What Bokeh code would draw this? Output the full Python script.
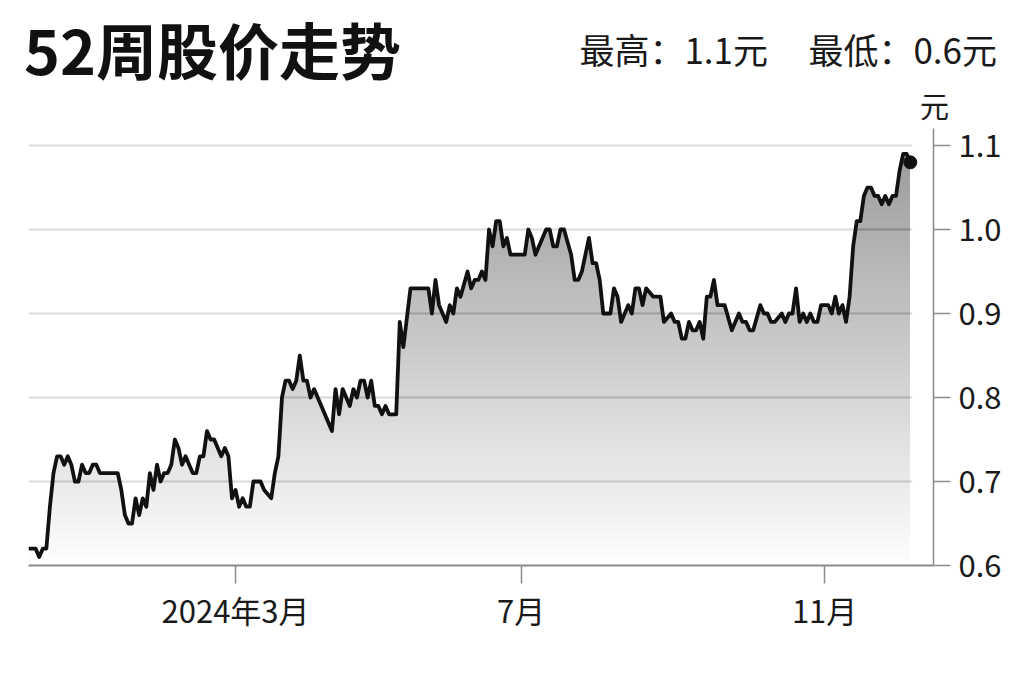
import numpy as np
from bokeh.plotting import figure
from bokeh.layouts import column
from bokeh.models import Range1d, FixedTicker, PrintfTickFormatter, Div
from bokeh.embed import file_html
from bokeh.resources import INLINE

# ---- data (trading-day index, closing price in 元) ----
day = [0, 2, 3, 4, 5, 6, 7, 8, 9, 10, 11, 12, 13, 14, 15, 16, 17, 18, 19, 20,
       25, 26, 27, 28, 29, 30, 31, 32, 33, 34, 35, 36, 37, 38, 39, 40, 41, 42, 43, 44,
       45, 46, 47, 48, 49, 50, 51, 52, 54, 55, 56, 57, 58, 59, 60, 61, 62, 63, 65, 66,
       68, 69, 70, 71, 72, 73, 74, 75, 76, 77, 78, 79, 80, 85, 86, 87, 88, 89, 90, 91,
       92, 93, 94, 95, 96, 97, 98, 99, 100, 101, 103, 104, 105, 107, 112, 113, 114, 115, 117, 118,
       119, 120, 121, 123, 124, 125, 126, 127, 128, 129, 130, 131, 132, 133, 134, 135, 139, 140, 141, 142,
       143, 145, 146, 147, 148, 149, 150, 152, 153, 154, 155, 157, 158, 159, 160, 161, 163, 164, 165, 166,
       168, 169, 170, 171, 172, 173, 175, 177, 178, 180, 181, 182, 183, 184, 185, 186, 187, 188, 189, 190,
       191, 192, 193, 195, 197, 199, 200, 201, 202, 203, 205, 206, 207, 208, 209, 211, 212, 213, 214, 215,
       216, 217, 218, 219, 220, 221, 222, 224, 225, 226, 227, 228, 229, 230, 231, 232, 233, 234, 235, 236,
       237, 238, 239, 240, 241, 242, 243, 244, 245, 246, 247]
price = [0.62, 0.62, 0.61, 0.62, 0.62, 0.67, 0.71, 0.73, 0.73, 0.72, 0.73, 0.72, 0.70, 0.70, 0.72, 0.71, 0.71, 0.72, 0.72, 0.71,
         0.71, 0.69, 0.66, 0.65, 0.65, 0.68, 0.66, 0.68, 0.67, 0.71, 0.69, 0.72, 0.70, 0.71, 0.71, 0.72, 0.75, 0.74, 0.72, 0.73,
         0.72, 0.71, 0.71, 0.73, 0.73, 0.76, 0.75, 0.75, 0.73, 0.74, 0.73, 0.68, 0.69, 0.67, 0.68, 0.67, 0.67, 0.70, 0.70, 0.69,
         0.68, 0.71, 0.73, 0.80, 0.82, 0.82, 0.81, 0.82, 0.85, 0.82, 0.82, 0.80, 0.81, 0.76, 0.81, 0.78, 0.81, 0.80, 0.79, 0.81,
         0.80, 0.82, 0.82, 0.80, 0.82, 0.79, 0.79, 0.78, 0.79, 0.78, 0.78, 0.89, 0.86, 0.93, 0.93, 0.90, 0.94, 0.91, 0.89, 0.91,
         0.90, 0.93, 0.92, 0.95, 0.93, 0.94, 0.94, 0.95, 0.94, 1.00, 0.98, 1.01, 1.01, 0.98, 0.99, 0.97, 0.97, 1.00, 0.99, 0.97,
         0.98, 1.00, 1.00, 0.98, 0.98, 1.00, 1.00, 0.97, 0.94, 0.94, 0.95, 0.99, 0.96, 0.96, 0.94, 0.90, 0.90, 0.93, 0.92, 0.89,
         0.91, 0.90, 0.93, 0.93, 0.91, 0.93, 0.92, 0.92, 0.89, 0.90, 0.89, 0.89, 0.87, 0.87, 0.89, 0.88, 0.88, 0.89, 0.87, 0.92,
         0.92, 0.94, 0.91, 0.91, 0.88, 0.90, 0.89, 0.89, 0.88, 0.88, 0.91, 0.90, 0.90, 0.89, 0.89, 0.90, 0.89, 0.90, 0.90, 0.93,
         0.89, 0.90, 0.89, 0.90, 0.89, 0.89, 0.91, 0.91, 0.90, 0.92, 0.90, 0.91, 0.89, 0.92, 0.98, 1.01, 1.01, 1.04, 1.05, 1.05,
         1.04, 1.04, 1.03, 1.04, 1.03, 1.04, 1.04, 1.07, 1.09, 1.09, 1.08]

x_tick_days = [58, 138, 223]
x_tick_labels = ["2024年3月", "7月", "11月"]
y_ticks = [0.6, 0.7, 0.8, 0.9, 1.0, 1.1]
y_axis_top = 1.12

title_text = "52周股价走势"
high_text = "最高：1.1元"
low_text = "最低：0.6元"
unit_text = "元"

FONT = "'Noto Sans CJK SC', 'Noto Sans', sans-serif"
TEXT = "#1a1a1a"
AXIS = "#8c8c8c"
W = 1024
HEAD_H = 120

# ---------------- header (title, high/low, unit) ----------------
span = ("position:absolute;white-space:nowrap;line-height:1;margin:0;padding:0;"
        "font-family:" + FONT + ";")
header_html = (
    '<div style="position:relative;width:%dpx;height:%dpx;margin:0;padding:0;">' % (W, HEAD_H)
    + '<span style="%sleft:24px;top:18px;font-size:61px;font-weight:bold;color:#111111;">%s</span>'
    % (span, title_text)
    + '<span style="%sright:%dpx;top:31px;font-size:35px;color:%s;">%s</span>'
    % (span, W - 768, TEXT, high_text)
    + '<span style="%sright:%dpx;top:31px;font-size:35px;color:%s;">%s</span>'
    % (span, W - 997, TEXT, low_text)
    + '<span style="%sleft:920px;top:91px;font-size:29px;color:%s;">%s</span>'
    % (span, TEXT, unit_text)
    + '</div>'
)
head = Div(text=header_html, width=W, height=HEAD_H, margin=0,
           styles={"overflow": "visible", "margin": "0", "padding": "0"})

# ---------------- main chart ----------------
# frame top sits 25px above the 1.1 level; the y axis line itself stops at 1.12
p = figure(width=W, height=680 - HEAD_H, output_backend="svg", toolbar_location=None,
           x_range=Range1d(0, 253.5), y_range=Range1d(0.6, 1.1298),
           y_axis_location="right", margin=0,
           min_border_left=28, min_border_right=91, min_border_top=0,
           min_border_bottom=115)
p.outline_line_color = None
p.xgrid.visible = False
p.ygrid.visible = False

# horizontal grid lines (only across the data span)
grid_levels = y_ticks[1:]
p.segment(x0=[day[0]] * len(grid_levels), y0=grid_levels,
          x1=[day[-1] + 0.5] * len(grid_levels), y1=grid_levels,
          line_color="#dadada", line_width=2)

# vertical gradient under the line: stacked translucent layers
pr = np.array(price, dtype=float)
levels = np.linspace(0.6, 1.1, 51)[:-1]
for L in levels:
    p.varea(x=day, y1=np.full(len(day), L), y2=np.maximum(pr, L),
            fill_color="black", fill_alpha=0.0095)

p.line(day, price, line_color="#111111", line_width=3.8, line_join="round")
p.scatter([day[-1]], [price[-1]], size=13, color="#111111")

# x axis
xa = p.xaxis[0]
xa.ticker = FixedTicker(ticks=x_tick_days)
xa.major_label_overrides = {d: s for d, s in zip(x_tick_days, x_tick_labels)}
xa.major_tick_out = 18
xa.major_tick_in = 0
xa.minor_tick_out = 0
xa.minor_tick_in = 0
xa.axis_line_color = AXIS
xa.axis_line_width = 2
xa.major_tick_line_color = AXIS
xa.major_tick_line_width = 1.5
xa.major_label_text_font = "Noto Sans CJK SC"
xa.major_label_text_font_size = "31px"
xa.major_label_text_color = TEXT
xa.major_label_standoff = 3

# y axis (right)
ya = p.yaxis[0]
ya.ticker = FixedTicker(ticks=y_ticks)
ya.formatter = PrintfTickFormatter(format="%.1f")
ya.bounds = (y_ticks[0], y_axis_top)
ya.major_tick_out = 17
ya.major_tick_in = 0
ya.minor_tick_out = 0
ya.minor_tick_in = 0
ya.axis_line_color = AXIS
ya.axis_line_width = 1.5
ya.major_tick_line_color = AXIS
ya.major_tick_line_width = 1.5
ya.major_label_text_font = "Noto Sans CJK SC"
ya.major_label_text_font_size = "31px"
ya.major_label_text_color = TEXT
ya.major_label_standoff = 8

layout = column(head, p, spacing=0)
open("out.html", "w").write(file_html(layout, INLINE))
